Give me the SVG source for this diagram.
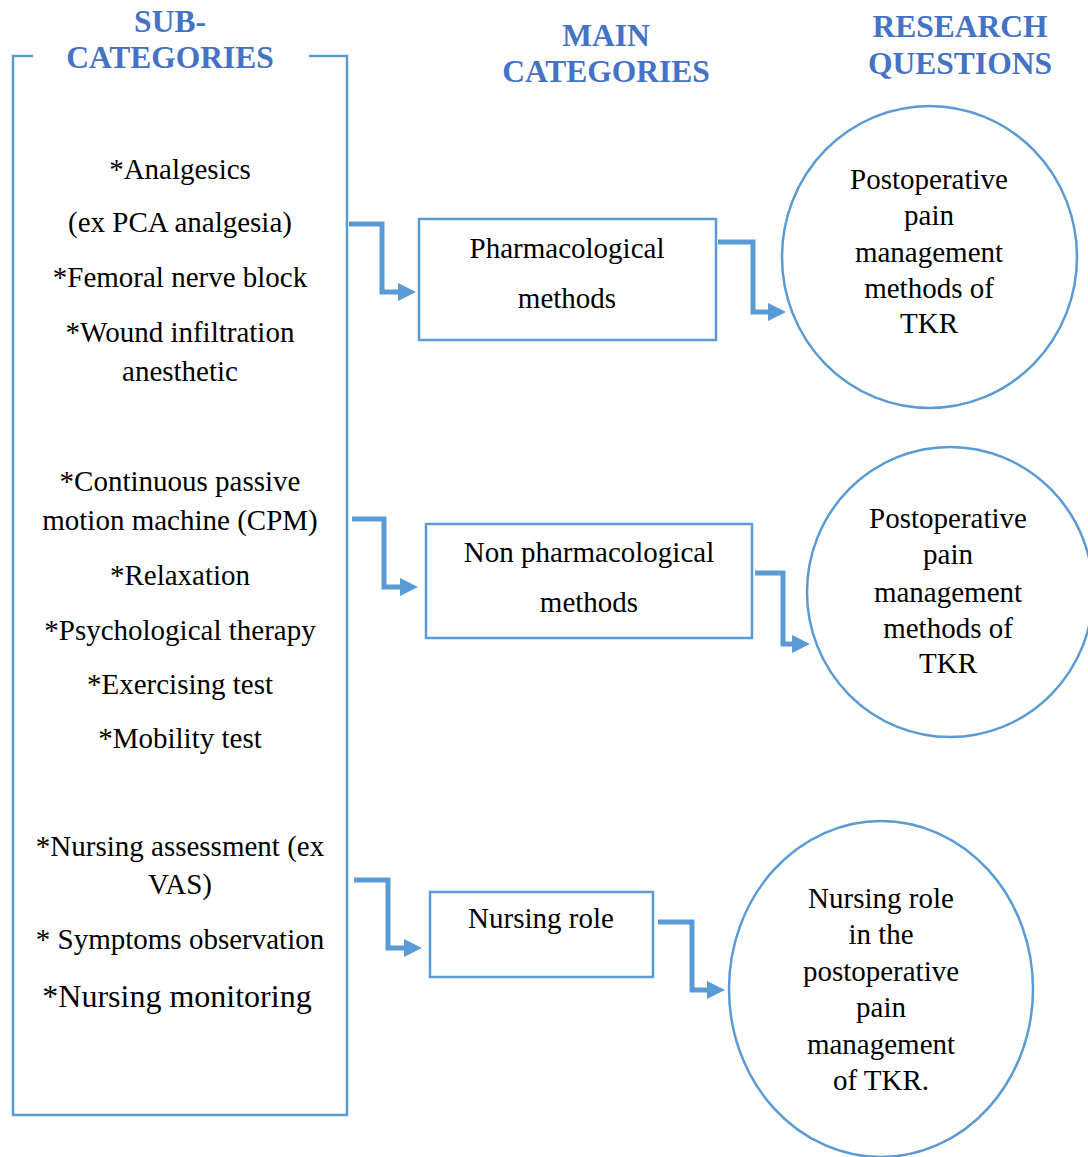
<svg xmlns="http://www.w3.org/2000/svg" width="1088" height="1157" viewBox="0 0 1088 1157">
<defs>
<style>
.hdr{font-family:"Liberation Serif","Times New Roman",serif;font-weight:bold;font-size:31.5px;fill:#4472C4;text-anchor:middle}
.t{font-family:"Liberation Serif","Times New Roman",serif;font-size:29px;fill:#000;text-anchor:middle}
.big{font-size:32px}
.shape{fill:#fff;stroke:#5B9BD5;stroke-width:2.5}
.frame{fill:none;stroke:#5B9BD5;stroke-width:2.5}
.conn{fill:none;stroke:#5B9BD5;stroke-width:5;stroke-linejoin:miter;marker-end:url(#ah)}
</style>
<marker id="ah" markerUnits="userSpaceOnUse" markerWidth="18" markerHeight="18" refX="0" refY="9" orient="auto" viewBox="0 0 18 18">
<path d="M0,0 L18,9 L0,18 z" fill="#5B9BD5"/>
</marker>
</defs>
<rect width="1088" height="1157" fill="#fff"/>

<g id="headers">
<text class="hdr" x="170" y="32">SUB-</text>
<text class="hdr" x="170" y="68">CATEGORIES</text>
<text class="hdr" x="606" y="46">MAIN</text>
<text class="hdr" x="606" y="82">CATEGORIES</text>
<text class="hdr" x="960" y="37">RESEARCH</text>
<text class="hdr" x="960" y="74">QUESTIONS</text>
</g>

<g id="subcategories">
<path class="frame" d="M33,56 H13 V1115 H347 V56 H309"/>
<text class="t" x="180" y="179">*Analgesics</text>
<text class="t" x="180" y="232">(ex PCA analgesia)</text>
<text class="t" x="180" y="287">*Femoral nerve block</text>
<text class="t" x="180" y="342">*Wound infiltration</text>
<text class="t" x="180" y="381">anesthetic</text>
<text class="t" x="180" y="491">*Continuous passive</text>
<text class="t" x="180" y="530">motion machine (CPM)</text>
<text class="t" x="180" y="585">*Relaxation</text>
<text class="t" x="180" y="640">*Psychological therapy</text>
<text class="t" x="180" y="694">*Exercising test</text>
<text class="t" x="180" y="748">*Mobility test</text>
<text class="t" x="180" y="856">*Nursing assessment (ex</text>
<text class="t" x="180" y="894">VAS)</text>
<text class="t" x="180" y="949">* Symptoms observation</text>
<text class="t big" x="177" y="1007">*Nursing monitoring</text>
</g>

<g id="main-pharmacological">
<rect class="shape" x="419" y="219" width="297" height="121"/>
<text class="t" x="567" y="258">Pharmacological</text>
<text class="t" x="567" y="308">methods</text>
</g>

<g id="main-nonpharmacological">
<rect class="shape" x="426" y="524" width="326" height="114"/>
<text class="t" x="589" y="562">Non pharmacological</text>
<text class="t" x="589" y="612">methods</text>
</g>

<g id="main-nursing">
<rect class="shape" x="430" y="892" width="223" height="85"/>
<text class="t" x="541" y="928">Nursing role</text>
</g>

<g id="rq1">
<ellipse class="shape" cx="929.5" cy="257" rx="147.5" ry="151"/>
<text class="t" x="929" y="189">Postoperative</text>
<text class="t" x="929" y="225">pain</text>
<text class="t" x="929" y="262">management</text>
<text class="t" x="929" y="298">methods of</text>
<text class="t" x="929" y="333">TKR</text>
</g>

<g id="rq2">
<ellipse class="shape" cx="950" cy="592" rx="143" ry="145"/>
<text class="t" x="948" y="528">Postoperative</text>
<text class="t" x="948" y="564">pain</text>
<text class="t" x="948" y="602">management</text>
<text class="t" x="948" y="638">methods of</text>
<text class="t" x="948" y="673">TKR</text>
</g>

<g id="rq3">
<ellipse class="shape" cx="881" cy="989" rx="152" ry="168"/>
<text class="t" x="881" y="908">Nursing role</text>
<text class="t" x="881" y="944">in the</text>
<text class="t" x="881" y="981">postoperative</text>
<text class="t" x="881" y="1017">pain</text>
<text class="t" x="881" y="1054">management</text>
<text class="t" x="881" y="1090">of TKR.</text>
</g>

<g id="connectors">
<path class="conn" d="M349,224 H382 V292 H398"/>
<path class="conn" d="M718,242 H753 V312 H768"/>
<path class="conn" d="M352,519 H384 V587 H400"/>
<path class="conn" d="M755,573 H783 V644 H792"/>
<path class="conn" d="M354,880 H388 V948 H404"/>
<path class="conn" d="M658,922 H692 V990 H707"/>
</g>
</svg>
